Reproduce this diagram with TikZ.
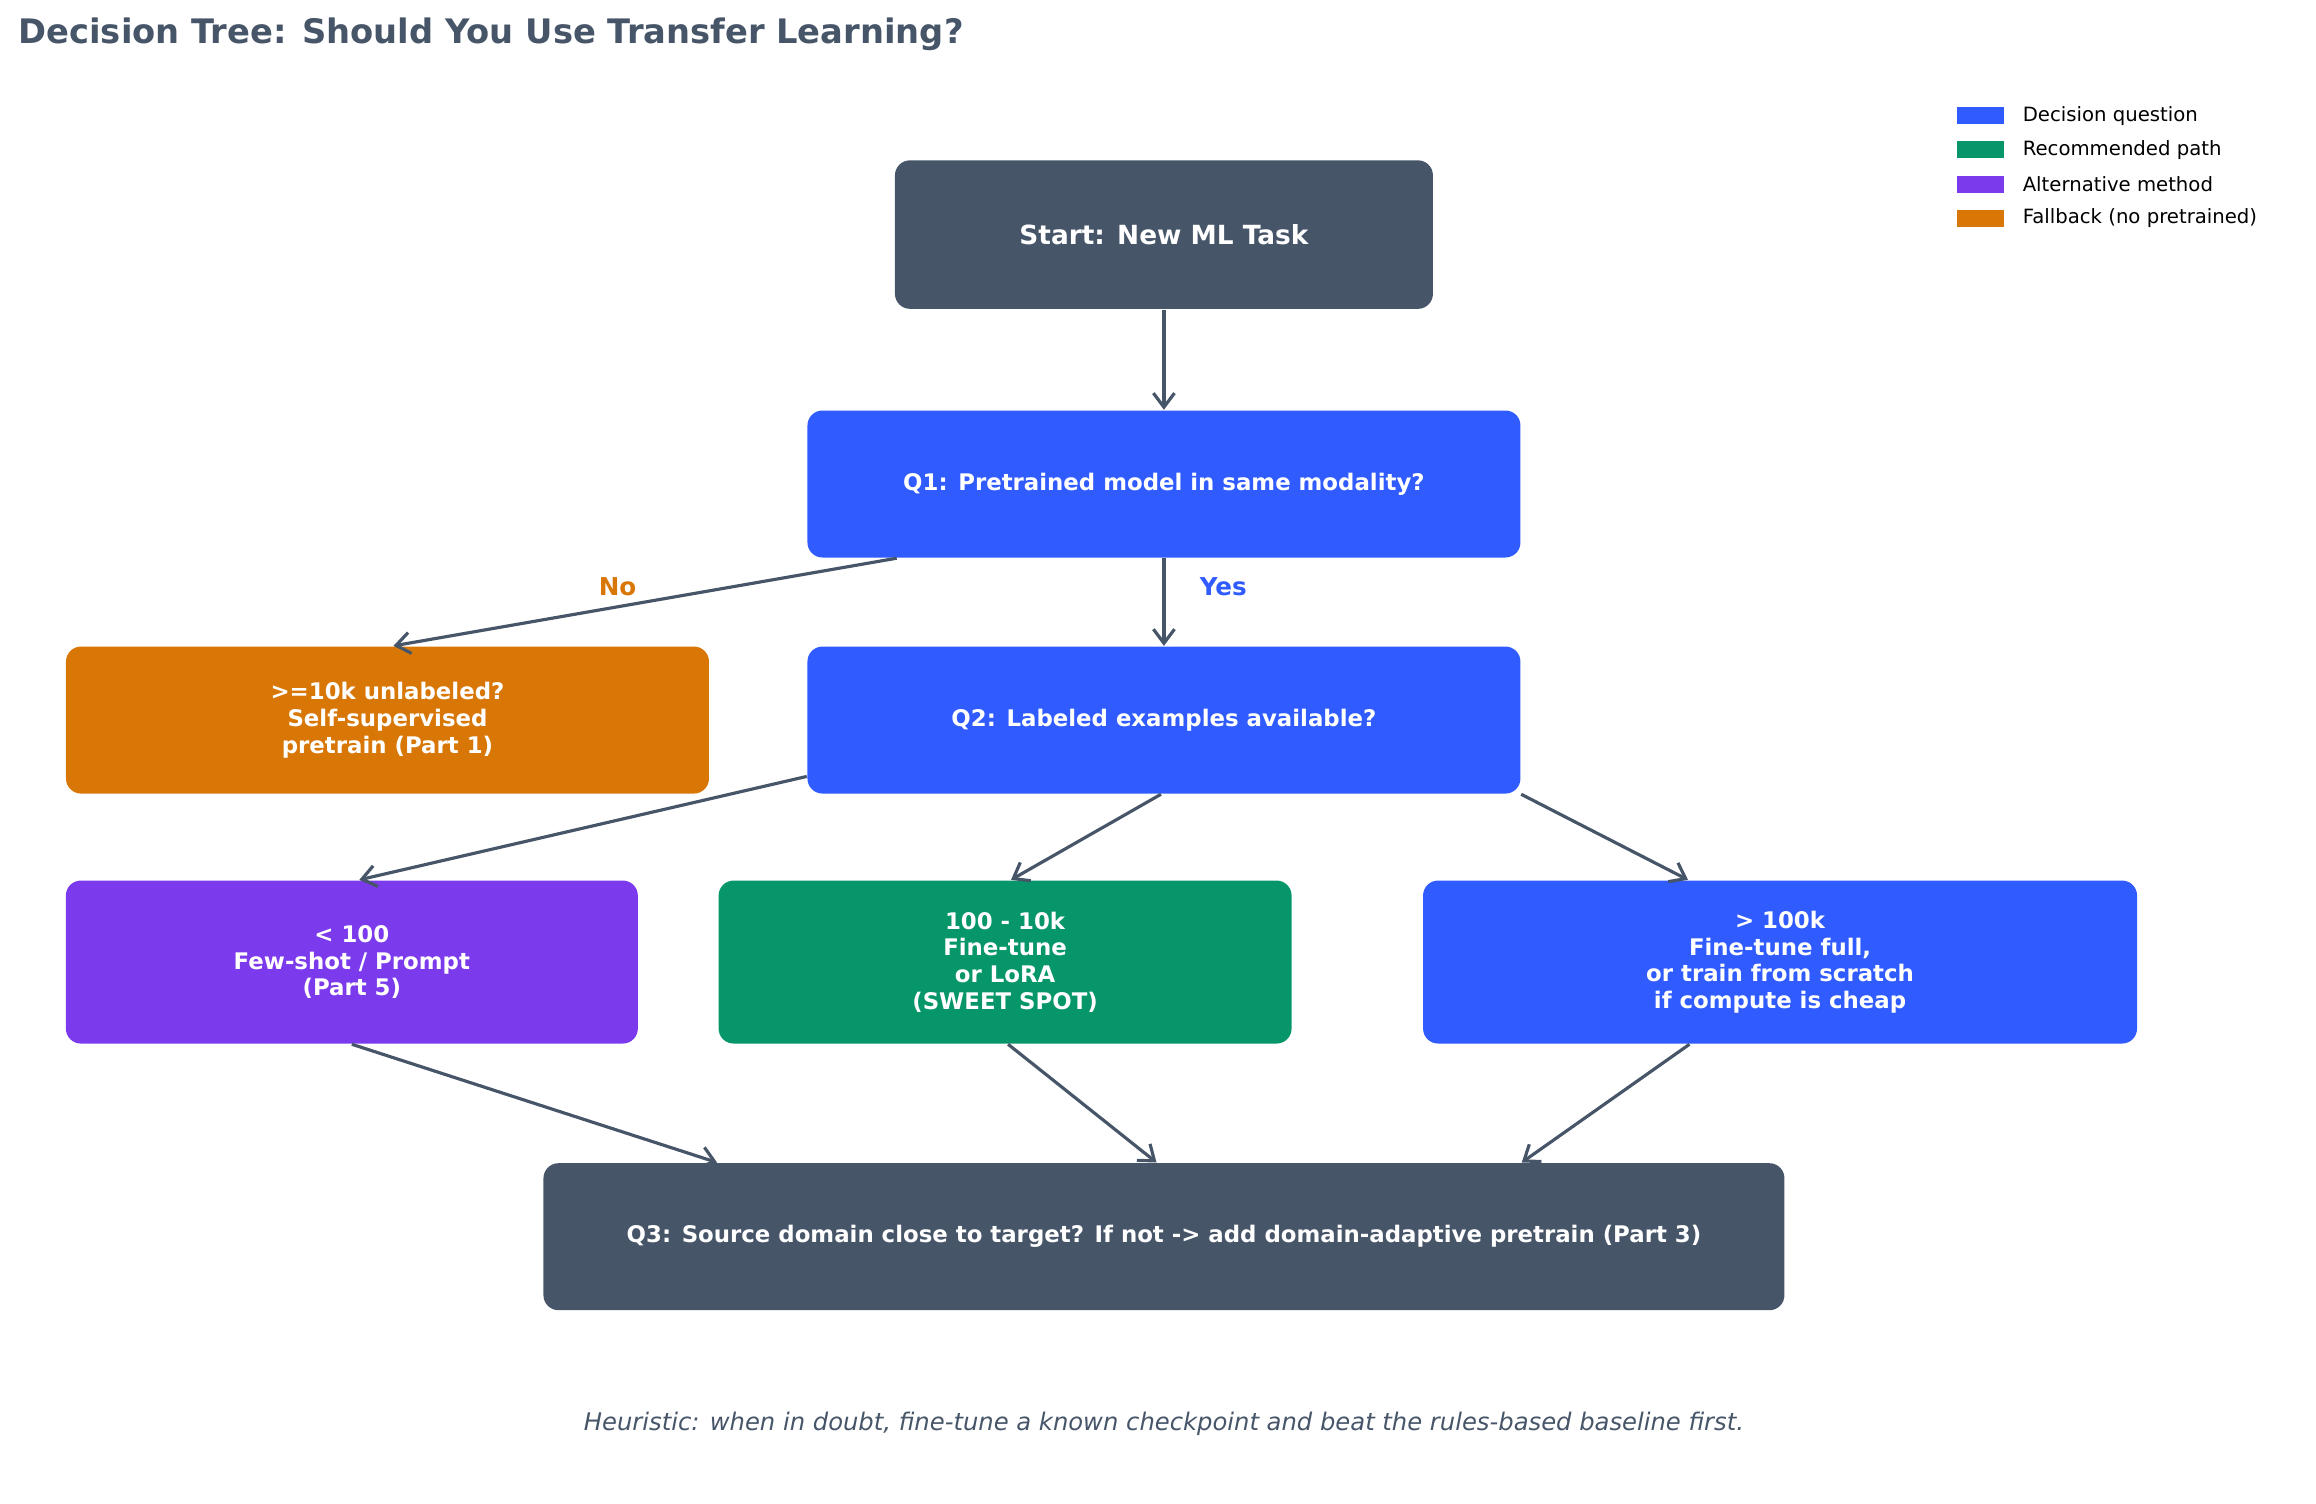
\documentclass[tikz,border=0pt]{standalone}
\usepackage{fontspec}
\setmainfont{DejaVu Sans}
\usetikzlibrary{positioning,calc,arrows.meta}
\definecolor{slate}{HTML}{475569}
\definecolor{qblue}{HTML}{2F5BFF}
\definecolor{recgreen}{HTML}{07966A}
\definecolor{altpurple}{HTML}{7C3AED}
\definecolor{fallorange}{HTML}{D97706}
\tikzset{box/.style={rectangle,rounded corners=0.15cm,text=white,font=\fontsize{6.5}{7.6}\selectfont\bfseries,align=center,inner sep=0},
    link/.style={->,>={Straight Barb[length=4pt,width=6pt]},draw=slate,line width=0.9pt},
    legendpatch/.style={rectangle,minimum width=0.47cm,minimum height=0.17cm,inner sep=0},
    legendtext/.style={anchor=west,font=\fontsize{5.6}{6}\selectfont,inner sep=0}
}

\begin{document}
\begin{tikzpicture}[x=0.01485cm,y=-0.01485cm]
\useasboundingbox (0,0) rectangle (1560,1013);

\node [anchor=west,font=\fontsize{9.6}{11}\selectfont\bfseries,text=slate,inner sep=0] (title) at (12,23) {Decision Tree: Should You Use Transfer Learning?};

% boxes
\node (start) at (784,158) [box,fill=slate,minimum width=5.38cm,minimum height=1.485cm,font=\fontsize{7.5}{9}\selectfont\bfseries] {Start: New ML Task};
\node (qone) at (784,326) [box,fill=qblue,minimum width=7.13cm,minimum height=1.47cm] {Q1: Pretrained model in same modality?};
\node (fallback) at (261,485) [box,fill=fallorange,minimum width=6.43cm,minimum height=1.47cm] {>=10k unlabeled?\\Self-supervised\\pretrain (Part 1)};
\node (qtwo) at (784,485) [box,fill=qblue,minimum width=7.13cm,minimum height=1.47cm] {Q2: Labeled examples available?};
\node (fewshot) at (237,648) [box,fill=altpurple,minimum width=5.72cm,minimum height=1.63cm] {< 100\\Few-shot / Prompt\\(Part 5)};
\node (finetune) at (677,648) [box,fill=recgreen,minimum width=5.73cm,minimum height=1.63cm] {100 - 10k\\Fine-tune\\or LoRA\\(SWEET SPOT)};
\node (fullft) at (1199,648) [box,fill=qblue,minimum width=7.14cm,minimum height=1.63cm] {> 100k\\Fine-tune full,\\or train from scratch\\if compute is cheap};
\node (qthree) at (784,833) [box,fill=slate,minimum width=12.41cm,minimum height=1.47cm] {Q3: Source domain close to target? If not -> add domain-adaptive pretrain (Part 3)};

% connectors
\draw [link] (start.south) -- (qone.north);
\draw [link] ($(qone.south)+(-180,0)$) -- ($(fallback.north)+(4,0)$);
\draw [link] (qone.south) -- (qtwo.north);
\draw [link] ($(qtwo.south west)+(0,-12)$) -- ($(fewshot.north)+(5,0)$);
\draw [link] ($(qtwo.south)+(-2,0)$) -- ($(finetune.north)+(4,0)$);
\draw [link] (qtwo.south east) -- ($(fullft.north)+(-62,0)$);
\draw [link] (fewshot.south) -- ($(qthree.north)+(-301,0)$);
\draw [link] ($(finetune.south)+(2,0)$) -- ($(qthree.north)+(-5,0)$);
\draw [link] ($(fullft.south)+(-61,0)$) -- ($(qthree.north)+(241,0)$);

\node (nolabel) at (416,395) [text=fallorange,font=\fontsize{7}{8}\selectfont\bfseries] {No};
\node (yeslabel) at (824,395) [text=qblue,font=\fontsize{7}{8}\selectfont\bfseries] {Yes};

% legend
\foreach \c/\t [count=\i] in {qblue/Decision question,recgreen/Recommended path,altpurple/Alternative method,fallorange/Fallback (no pretrained)}
{
    \node (patch\i) at (1334,55+23*\i) [legendpatch,fill=\c] {};
    \node (legend\i) at (1362,55+23*\i) [legendtext] {\t};
}

\node (heuristic) at (784,959) [text=slate,font=\fontsize{6.9}{8}\selectfont\itshape] {Heuristic: when in doubt, fine-tune a known checkpoint and beat the rules-based baseline first.};

\end{tikzpicture}
\end{document}
